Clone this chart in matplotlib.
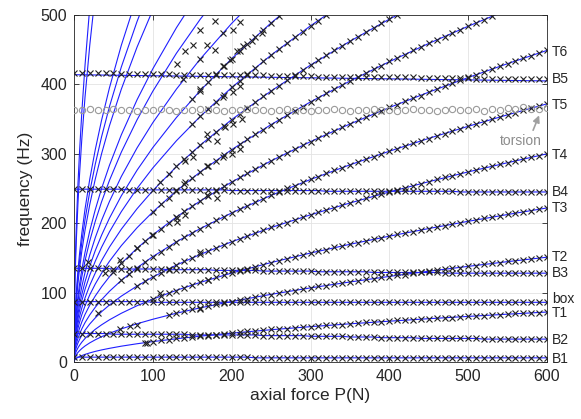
import numpy as np
import matplotlib

matplotlib.use("Agg")
import matplotlib.pyplot as plt

plt.rcParams["font.family"] = ["Liberation Sans", "DejaVu Sans"]

# measurement grid of axial force (N), one reading every 10 N
p_meas = np.arange(0, 610, 10)

# nearly constant modes (bending, box, torsion), Hz
b1 = [7, 7, 7, 7, 7, 7, 7, 7, 7, 7, 7, 7, 7, 7, 7, 7, 7, 7, 7, 7,
      7, 7, 7, 6, 6, 6, 6, 6, 6, 6, 6, 6, 6, 6, 6, 6, 6, 6, 6, 6,
      6, 6, 6, 6, 6, 6, 6, 6, 6, 6, 6, 6, 6, 6, 6, 6, 6, 6, 6, 6, 6]
b2 = [41, 41, 41, 41, 41, 40, 40, 40, 40, 40, 40, 40, 40, 40, 40, 39, 39, 39, 39, 39,
      39, 39, 39, 39, 38, 38, 38, 38, 38, 38, 37, 37, 37, 37, 37, 36, 36, 36, 36, 35,
      35, 35, 35, 35, 34, 34, 34, 34, 34, 34, 34, 34, 33, 33, 33, 33, 33, 33, 33, 33, 33]
box = [87, 87, 87, 87, 87, 87, 87, 87, 87, 87, 86, 86, 86, 86, 86, 86, 86, 86, 86, 86,
       86, 86, 86, 86, 86, 86, 86, 86, 86, 86, 86, 86, 86, 86, 86, 86, 86, 86, 86, 86,
       86, 86, 86, 86, 86, 86, 86, 86, 86, 86, 86, 86, 86, 86, 86, 86, 86, 86, 86, 86, 86]
b3 = [135, 135, 135, 135, 135, 134, 134, 134, 134, 134, 134, 134, 133, 133, 133, 133, 133, 133, 132, 132,
      132, 132, 132, 132, 131, 131, 131, 131, 131, 131, 131, 130, 130, 130, 130, 130, 130, 130, 129, 129,
      129, 129, 129, 129, 129, 129, 129, 128, 128, 128, 128, 128, 128, 128, 128, 128, 128, 128, 128, 128, 128]
b4 = [249, 249, 249, 249, 249, 249, 249, 248, 248, 248, 248, 248, 248, 248, 248, 248, 248, 248, 248, 248,
      247, 247, 247, 247, 247, 247, 247, 247, 247, 247, 247, 247, 246, 246, 246, 246, 246, 246, 246, 246,
      246, 246, 246, 246, 246, 246, 246, 246, 246, 245, 245, 245, 245, 245, 245, 245, 245, 245, 245, 245, 245]
torsion = [363, 363, 364, 363, 363, 364, 363, 363, 362, 363, 363, 364, 363, 362, 363, 363, 364, 363, 363, 362,
           363, 363, 364, 363, 363, 362, 363, 364, 363, 363, 362, 363, 363, 364, 363, 362, 363, 363, 364, 363,
           363, 362, 363, 364, 363, 363, 362, 363, 364, 363, 363, 364, 362, 365, 363, 366, 364, 367, 365, 364, 366]
b5 = [416, 416, 416, 416, 416, 416, 415, 415, 415, 415, 415, 415, 415, 414, 414, 414, 414, 414, 414, 413,
      413, 413, 413, 413, 413, 412, 412, 412, 412, 412, 412, 411, 411, 411, 411, 411, 411, 410, 410, 410,
      410, 410, 410, 410, 409, 409, 409, 409, 409, 409, 409, 408, 408, 408, 408, 408, 408, 408, 408, 408, 408]
b5_model_p = [0, 600]
b5_model = [414, 405]

# tension dependent modes T1..T10, measured (start force, values every 10 N)
t1_start, t1 = 90, [28, 29, 31, 32, 34, 35, 36, 37, 38, 39, 41, 42, 43, 44, 45, 46, 47, 47, 48, 49,
                    50, 51, 52, 53, 53, 54, 55, 56, 57, 57, 58, 59, 60, 60, 61, 62, 62, 63, 64, 64,
                    65, 66, 66, 67, 68, 68, 69, 70, 70, 71, 71, 72]
t2_start, t2 = 120, [68, 70, 73, 76, 78, 80, 83, 85, 87, 89, 91, 93, 96, 97, 99, 101, 103, 105, 107, 109,
                     110, 112, 114, 115, 117, 119, 120, 122, 123, 125, 126, 128, 129, 131, 132, 134, 135, 136, 138, 139,
                     141, 142, 143, 145, 146, 147, 148, 150, 151]
t3_start, t3 = 100, [91, 95, 99, 103, 107, 111, 115, 118, 122, 125, 128, 131, 134, 137, 140, 143, 146, 149, 152, 154,
                     157, 160, 162, 165, 167, 170, 172, 174, 177, 179, 181, 184, 186, 188, 190, 192, 194, 196, 199, 201,
                     203, 205, 207, 209, 211, 213, 214, 216, 218, 220, 222]
t4_start, t4 = 80, [110, 116, 122, 128, 134, 140, 145, 150, 155, 160, 164, 169, 173, 177, 182, 186, 190, 194, 197, 201,
                    205, 209, 212, 216, 219, 222, 226, 229, 232, 236, 239, 242, 245, 248, 251, 254, 257, 260, 263, 266,
                    268, 271, 274, 277, 279, 282, 285, 287, 290, 292, 295, 297, 300]
t5_start, t5 = 60, [118, 127, 136, 144, 152, 159, 166, 173, 180, 186, 192, 198, 204, 209, 215, 220, 225, 230, 235, 240,
                    245, 250, 254, 259, 263, 267, 272, 276, 280, 284, 288, 292, 296, 300, 304, 307, 311, 315, 319, 322,
                    326, 329, 333, 336, 340, 343, 346, 350, 353, 356, 359, 363, 366, 369, 372]
t6_start, t6 = 50, [130, 142, 153, 164, 174, 183, 192, 201, 209, 217, 225, 232, 239, 246, 253, 259, 266, 272, 278, 284,
                    290, 296, 301, 307, 312, 317, 323, 328, 333, 338, 343, 348, 353, 357, 362, 367, 371, 376, 380, 384,
                    389, 393, 397, 402, 406, 410, 414, 418, 422, 426, 430, 434, 438, 441, 445, 449]
t7_start, t7 = 100, [216, 227, 237, 247, 256, 265, 274, 282, 290, 298, 306, 314, 321, 328, 335, 342, 349, 356, 362, 368,
                     375, 381, 387, 393, 399, 405, 411, 416, 422, 427, 433, 438, 443, 449, 454, 459, 464, 469, 474, 479,
                     484, 489, 493, 498]
t8_start, t8 = 120, [271, 282, 292, 303, 312, 322, 331, 340, 349, 358, 366, 375, 383, 391, 398, 406, 413, 421, 428, 435,
                     442, 449, 455, 462, 469, 475, 481, 488, 494, 500]
t9_start, t9 = 150, [343, 354, 365, 375, 385, 396, 405, 415, 424, 433, 442, 451, 460, 468, 476, 484, 492, 500]
t10_start, t10 = 150, [379, 391, 403, 415, 426, 437, 448, 458, 469, 479, 489, 498]

# scattered readings of the higher modes at low force (P, f)
scatter_p = [131, 141, 151, 160, 179, 189, 202, 211, 160, 169, 179, 189, 198, 207, 214, 226, 238, 138, 160, 189,
             202, 211, 169, 181, 192, 202, 213, 141, 151, 169, 189, 200, 211, 109, 141, 169, 181, 131, 141, 18,
             39, 58, 80, 99, 109, 30, 58, 71, 80, 93, 160, 170, 160, 131]
scatter_f = [430, 448, 457, 478, 491, 474, 478, 490, 437, 457, 449, 427, 435, 448, 455, 462, 474, 408, 394, 382,
             389, 397, 328, 318, 338, 343, 350, 289, 295, 282, 295, 299, 307, 260, 260, 241, 237, 208, 212, 144,
             128, 147, 164, 183, 99, 70, 48, 52, 54, 28, 158, 118, 77, 202]

# string model curves (blue), sampled force values and frequencies
p_line = [0, 0.5, 1, 2, 3, 5, 7, 10, 14, 20, 27, 35, 45, 60, 80, 100, 130, 160, 200, 250, 300, 350, 400, 450, 500, 550, 600]
line_t1 = [0, 2.1, 2.9, 4.2, 5.1, 6.6, 7.8, 9.3, 11.0, 13.1, 15.3, 17.4, 19.7, 22.8, 26.3, 29.4, 33.5, 37.2, 41.6, 46.5, 50.9, 55.0, 58.8, 62.4, 65.7, 68.9, 72]
line_t2 = [0, 4.4, 6.2, 8.7, 10.7, 13.8, 16.3, 19.5, 23.1, 27.6, 32.0, 36.5, 41.4, 47.7, 55.1, 61.6, 70.3, 78.0, 87.2, 97.5, 106.8, 115.3, 123.3, 130.8, 137.8, 144.6, 151]
line_t3 = [0, 6.4, 9.1, 12.8, 15.7, 20.3, 24.0, 28.7, 33.9, 40.5, 47.1, 53.6, 60.8, 70.2, 81.1, 90.6, 103.3, 114.6, 128.2, 143.3, 157.0, 169.6, 181.3, 192.3, 202.7, 212.5, 222]
line_t4 = [0, 8.7, 12.2, 17.3, 21.2, 27.4, 32.4, 38.7, 45.8, 54.8, 63.6, 72.5, 82.2, 94.9, 109.5, 122.5, 139.7, 154.9, 173.2, 193.7, 212.1, 229.1, 245.0, 259.8, 273.9, 287.2, 300]
line_t5 = [0, 10.7, 15.2, 21.5, 26.3, 34.0, 40.2, 48.0, 56.8, 67.9, 78.9, 89.8, 101.9, 117.6, 135.8, 151.9, 173.2, 192.1, 214.8, 240.1, 263.0, 284.1, 303.7, 322.2, 339.6, 356.2, 372]
line_t6 = [0, 13.0, 18.3, 25.9, 31.7, 41.0, 48.5, 58.0, 68.6, 82.0, 95.2, 108.4, 123.0, 142.0, 163.9, 183.3, 209.0, 231.9, 259.3, 289.8, 317.5, 342.9, 366.6, 388.8, 409.9, 429.9, 449]
line_t7 = [0, 15.3, 21.6, 30.6, 37.5, 48.4, 57.2, 68.4, 81.0, 96.8, 112.4, 128.0, 145.2, 167.6, 193.5, 216.3, 246.7, 273.7, 306.0, 342.1, 374.8, 404.8, 432.7, 459.0, 483.8, 507.4]
line_t8 = [0, 17.5, 24.7, 34.9, 42.8, 55.2, 65.3, 78.1, 92.4, 110.5, 128.3, 146.1, 165.7, 191.3, 220.9, 247.0, 281.6, 312.4, 349.3, 390.5, 427.8, 462.1, 494.0, 523.9]
line_t9 = [0, 19.8, 28.0, 39.6, 48.4, 62.5, 74.0, 88.4, 104.7, 125.1, 145.3, 165.4, 187.6, 216.6, 250.1, 279.6, 318.9, 353.7, 395.5, 442.2, 484.4, 523.2]
line_t10 = [0, 21.9, 30.9, 43.7, 53.5, 69.1, 81.8, 97.7, 115.7, 138.2, 160.6, 182.8, 207.3, 239.4, 276.4, 309.0, 352.4, 390.9, 437.1, 488.6, 535.3]
line_t11 = [0, 24.4, 34.5, 48.8, 59.8, 77.1, 91.3, 109.1, 129.1, 154.3, 179.2, 204.1, 231.4, 267.2, 308.5, 344.9, 393.3, 436.4, 487.9, 545.4]
line_t12 = [0, 27.6, 39.0, 55.2, 67.6, 87.3, 103.2, 123.4, 146.1, 174.6, 202.8, 230.9, 261.8, 302.3, 349.0, 390.2, 445.0, 493.7, 552.0]
line_t13 = [0, 29.9, 42.2, 59.8, 73.2, 94.5, 111.8, 133.6, 158.1, 189.0, 219.5, 250.0, 283.5, 327.3, 377.9, 422.5, 481.8, 534.5]
line_t14 = [0, 35.9, 50.7, 71.8, 87.9, 113.5, 134.2, 160.5, 189.9, 227.0, 263.6, 300.2, 340.5, 393.0, 453.8, 507.4]
line_t15 = [0, 38.8, 54.9, 77.6, 95.0, 122.7, 145.2, 173.5, 205.4, 245.4, 285.1, 324.6, 368.1, 425.0, 490.7, 548.6]
line_t16 = [0, 41.7, 58.9, 83.3, 102.0, 131.7, 155.8, 186.3, 220.5, 263.5, 306.1, 348.5, 395.2, 456.3, 526.8]
# the steep pair close to the frequency axis
line_s1 = [0, 72.2, 102.1, 144.3, 176.8, 228.2, 270.0, 322.8, 382.0, 456.5, 530.3]
line_s2 = [0, 80.8, 114.3, 161.7, 198.0, 255.6, 302.4, 361.5, 427.8, 511.3]

# labels on the right edge (mode name, frequency at P = 600)
mode_names = ["T6", "B5", "T5", "T4", "B4", "T3", "T2", "B3", "box", "T1", "B2", "B1"]
mode_label_f = [447, 408, 370, 298, 245, 222, 151, 128, 91, 71, 32, 4]

BLUE = "#1f1fff"
INK = "#262626"

fig = plt.figure(figsize=(5.81, 4.19), dpi=100)
ax = fig.add_axes([74 / 581, 1 - 362 / 419, 473 / 581, 347 / 419])

fan = [line_t1, line_t2, line_t3, line_t4, line_t5, line_t6, line_t7, line_t8, line_t9, line_t10, line_t11,
       line_t12, line_t13, line_t14, line_t15, line_t16, line_s1, line_s2]
for f in fan:
    ax.plot(p_line[:len(f)], f, color=BLUE, lw=0.8, zorder=2)

for series in [b1, b2, box, b3, b4]:
    ax.plot(p_meas, series, color=BLUE, lw=0.8, zorder=2)
ax.plot(b5_model_p, b5_model, color=BLUE, lw=0.8, zorder=2)

xkw = dict(ls="none", marker="x", ms=5, mew=0.8, color="#222222", zorder=3)
for series in [b1, b2, box, b3, b4, b5]:
    ax.plot(p_meas, series, **xkw)

for start, vals in [(t1_start, t1), (t2_start, t2), (t3_start, t3), (t4_start, t4), (t5_start, t5),
                    (t6_start, t6), (t7_start, t7), (t8_start, t8), (t9_start, t9), (t10_start, t10)]:
    p = p_meas[p_meas >= start][:len(vals)]
    ax.plot(p, vals, **xkw)
ax.plot(scatter_p, scatter_f, **xkw)

ax.plot(p_meas, torsion, ls="none", marker="o", ms=4.5, mfc="none", mec="#9a9a9a", mew=0.8, zorder=3)

for name, f in zip(mode_names, mode_label_f):
    ax.text(606, f, name, ha="left", va="center", fontsize=10, color=INK, clip_on=False)

ax.annotate("torsion", xy=(592, 361), xytext=(567, 318), ha="center", va="center",
            fontsize=10, color="#8c8c8c",
            arrowprops=dict(arrowstyle="-|>", color="#a0a0a0", lw=1.2, mutation_scale=10,
                            shrinkA=1, shrinkB=3, relpos=(0.75, 1.0)))

ax.set_xlim(0, 600)
ax.set_ylim(0, 500)
ax.set_xticks(range(0, 601, 100))
ax.set_yticks(range(0, 501, 100))
ax.grid(True, color="#e3e3e3", lw=0.6)
ax.set_axisbelow(True)
ax.tick_params(direction="in", length=3.5, width=0.6, top=True, right=True,
               labelsize=11.5, colors=INK, pad=5)
for s in ax.spines.values():
    s.set_color(INK)
    s.set_linewidth(0.6)
ax.set_xlabel("axial force P(N)", fontsize=12.5, color=INK, labelpad=3)
ax.set_ylabel("frequency (Hz)", fontsize=12.5, color=INK, labelpad=5)

fig.savefig("out.png", dpi=100)
